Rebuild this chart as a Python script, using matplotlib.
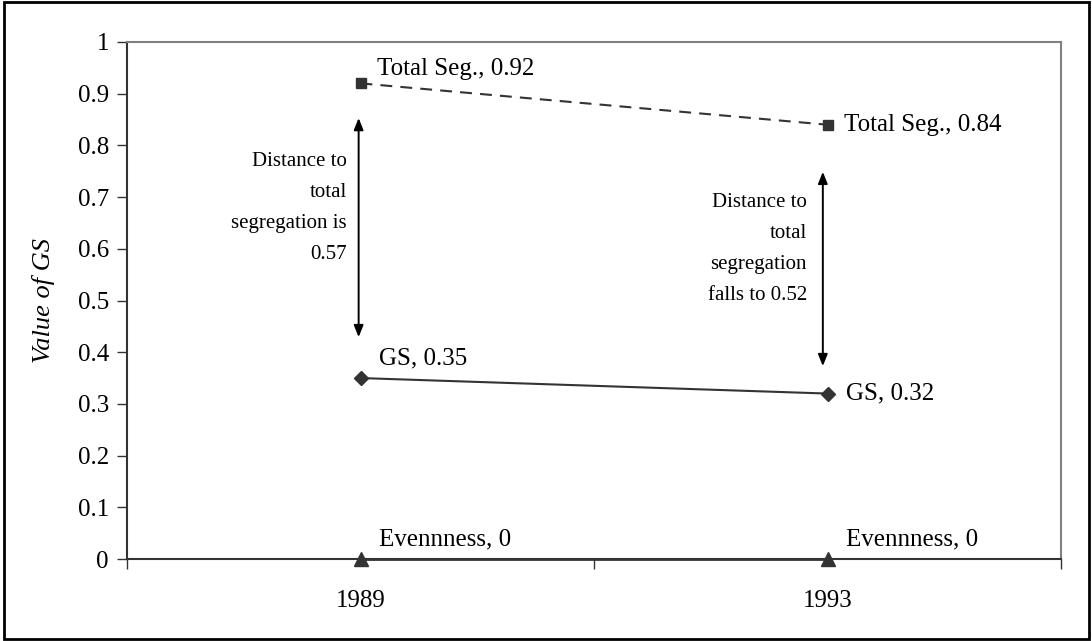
import matplotlib
matplotlib.use("Agg")
from matplotlib import pyplot as plt
from matplotlib.patches import Rectangle

plt.rcParams['font.family'] = ['Liberation Serif', 'DejaVu Serif']

# data
years = ['1989', '1993']
total_seg = [0.92, 0.84]
gs = [0.35, 0.32]
evenness = [0, 0]

total_labels = ['Total Seg., 0.92', 'Total Seg., 0.84']
gs_labels = ['GS, 0.35', 'GS, 0.32']
even_labels = ['Evennness, 0', 'Evennness, 0']

# distance notes and the arrows beside them
notes = ['Distance to\ntotal\nsegregation is\n0.57',
         'Distance to\ntotal\nsegregation\nfalls to 0.52']
arrow_top = [0.853, 0.749]
arrow_bottom = [0.429, 0.373]
note_mid = [0.679, 0.600]

dark = '#333333'

fig = plt.figure(figsize=(10.92, 6.41), dpi=100)
ax = fig.add_axes([127 / 1092, 1 - 559 / 641, 934 / 1092, 517 / 641])

x = list(range(len(years)))

ax.plot(x, total_seg, color=dark, lw=1.5, dashes=(5.7, 3.9),
        marker='s', ms=7, mfc=dark, mec=dark, zorder=3)
ax.plot(x, gs, color=dark, lw=1.5, marker='D', ms=7, mfc=dark, mec=dark, zorder=3)
ax.plot(x, evenness, color=dark, lw=2, marker='^', ms=10, mfc=dark, mec=dark,
        zorder=3, clip_on=False)

# point labels
ax.annotate(total_labels[0], (x[0], total_seg[0]), xytext=(12, 10),
            textcoords='offset points', ha='left', va='center', fontsize=18)
ax.annotate(total_labels[1], (x[1], total_seg[1]), xytext=(12, 0),
            textcoords='offset points', ha='left', va='center', fontsize=18)
ax.annotate(gs_labels[0], (x[0], gs[0]), xytext=(13, 14),
            textcoords='offset points', ha='left', va='center', fontsize=18)
ax.annotate(gs_labels[1], (x[1], gs[1]), xytext=(13, 0),
            textcoords='offset points', ha='left', va='center', fontsize=18)
for i in x:
    ax.annotate(even_labels[i], (x[i], evenness[i]), xytext=(13, 14),
                textcoords='offset points', ha='left', va='center', fontsize=18)

# double arrows + notes
arrow_dx = [-0.004, -0.01]
note_dx = [-0.029, -0.044]
for i in x:
    ax.annotate('', xy=(x[i] + arrow_dx[i], arrow_bottom[i]),
                xytext=(x[i] + arrow_dx[i], arrow_top[i]),
                arrowprops=dict(arrowstyle='<|-|>,head_length=0.5,head_width=0.2',
                                color='black', lw=1.4, shrinkA=0, shrinkB=0,
                                mutation_scale=14))
    ax.text(x[i] + note_dx[i], note_mid[i], notes[i], ha='right', va='center',
            fontsize=15, linespacing=1.85)

ax.set_xlim(-0.5, 1.5)
ax.set_ylim(0, 1)
ax.set_yticks([i / 10 for i in range(11)])
ax.set_yticklabels(['0', '0.1', '0.2', '0.3', '0.4', '0.5', '0.6', '0.7',
                    '0.8', '0.9', '1'])
ax.set_xticks([-0.5, 0.5, 1.5])
ax.set_xticklabels([])
ax.set_xticks(x, minor=True)
ax.set_xticklabels(years, minor=True)
ax.tick_params(axis='x', which='minor', length=0, pad=22, labelsize=18)
ax.tick_params(axis='x', which='major', length=7, width=1, color=dark)
ax.tick_params(axis='y', length=7, width=1, color=dark, pad=6, labelsize=18)

ax.set_ylabel('Value of GS', fontsize=19, style='italic', labelpad=16)

for side in ['top', 'right']:
    ax.spines[side].set_color('#808080')
    ax.spines[side].set_linewidth(1.5)
for side in ['left', 'bottom']:
    ax.spines[side].set_color(dark)
    ax.spines[side].set_linewidth(1.5)

# outer frame around the whole chart
fig.patches.append(Rectangle((4 / 1092, 2 / 641), 1085 / 1092, 637 / 641,
                             transform=fig.transFigure, fill=False,
                             edgecolor='black', linewidth=2))

fig.savefig('out.png', dpi=100)
